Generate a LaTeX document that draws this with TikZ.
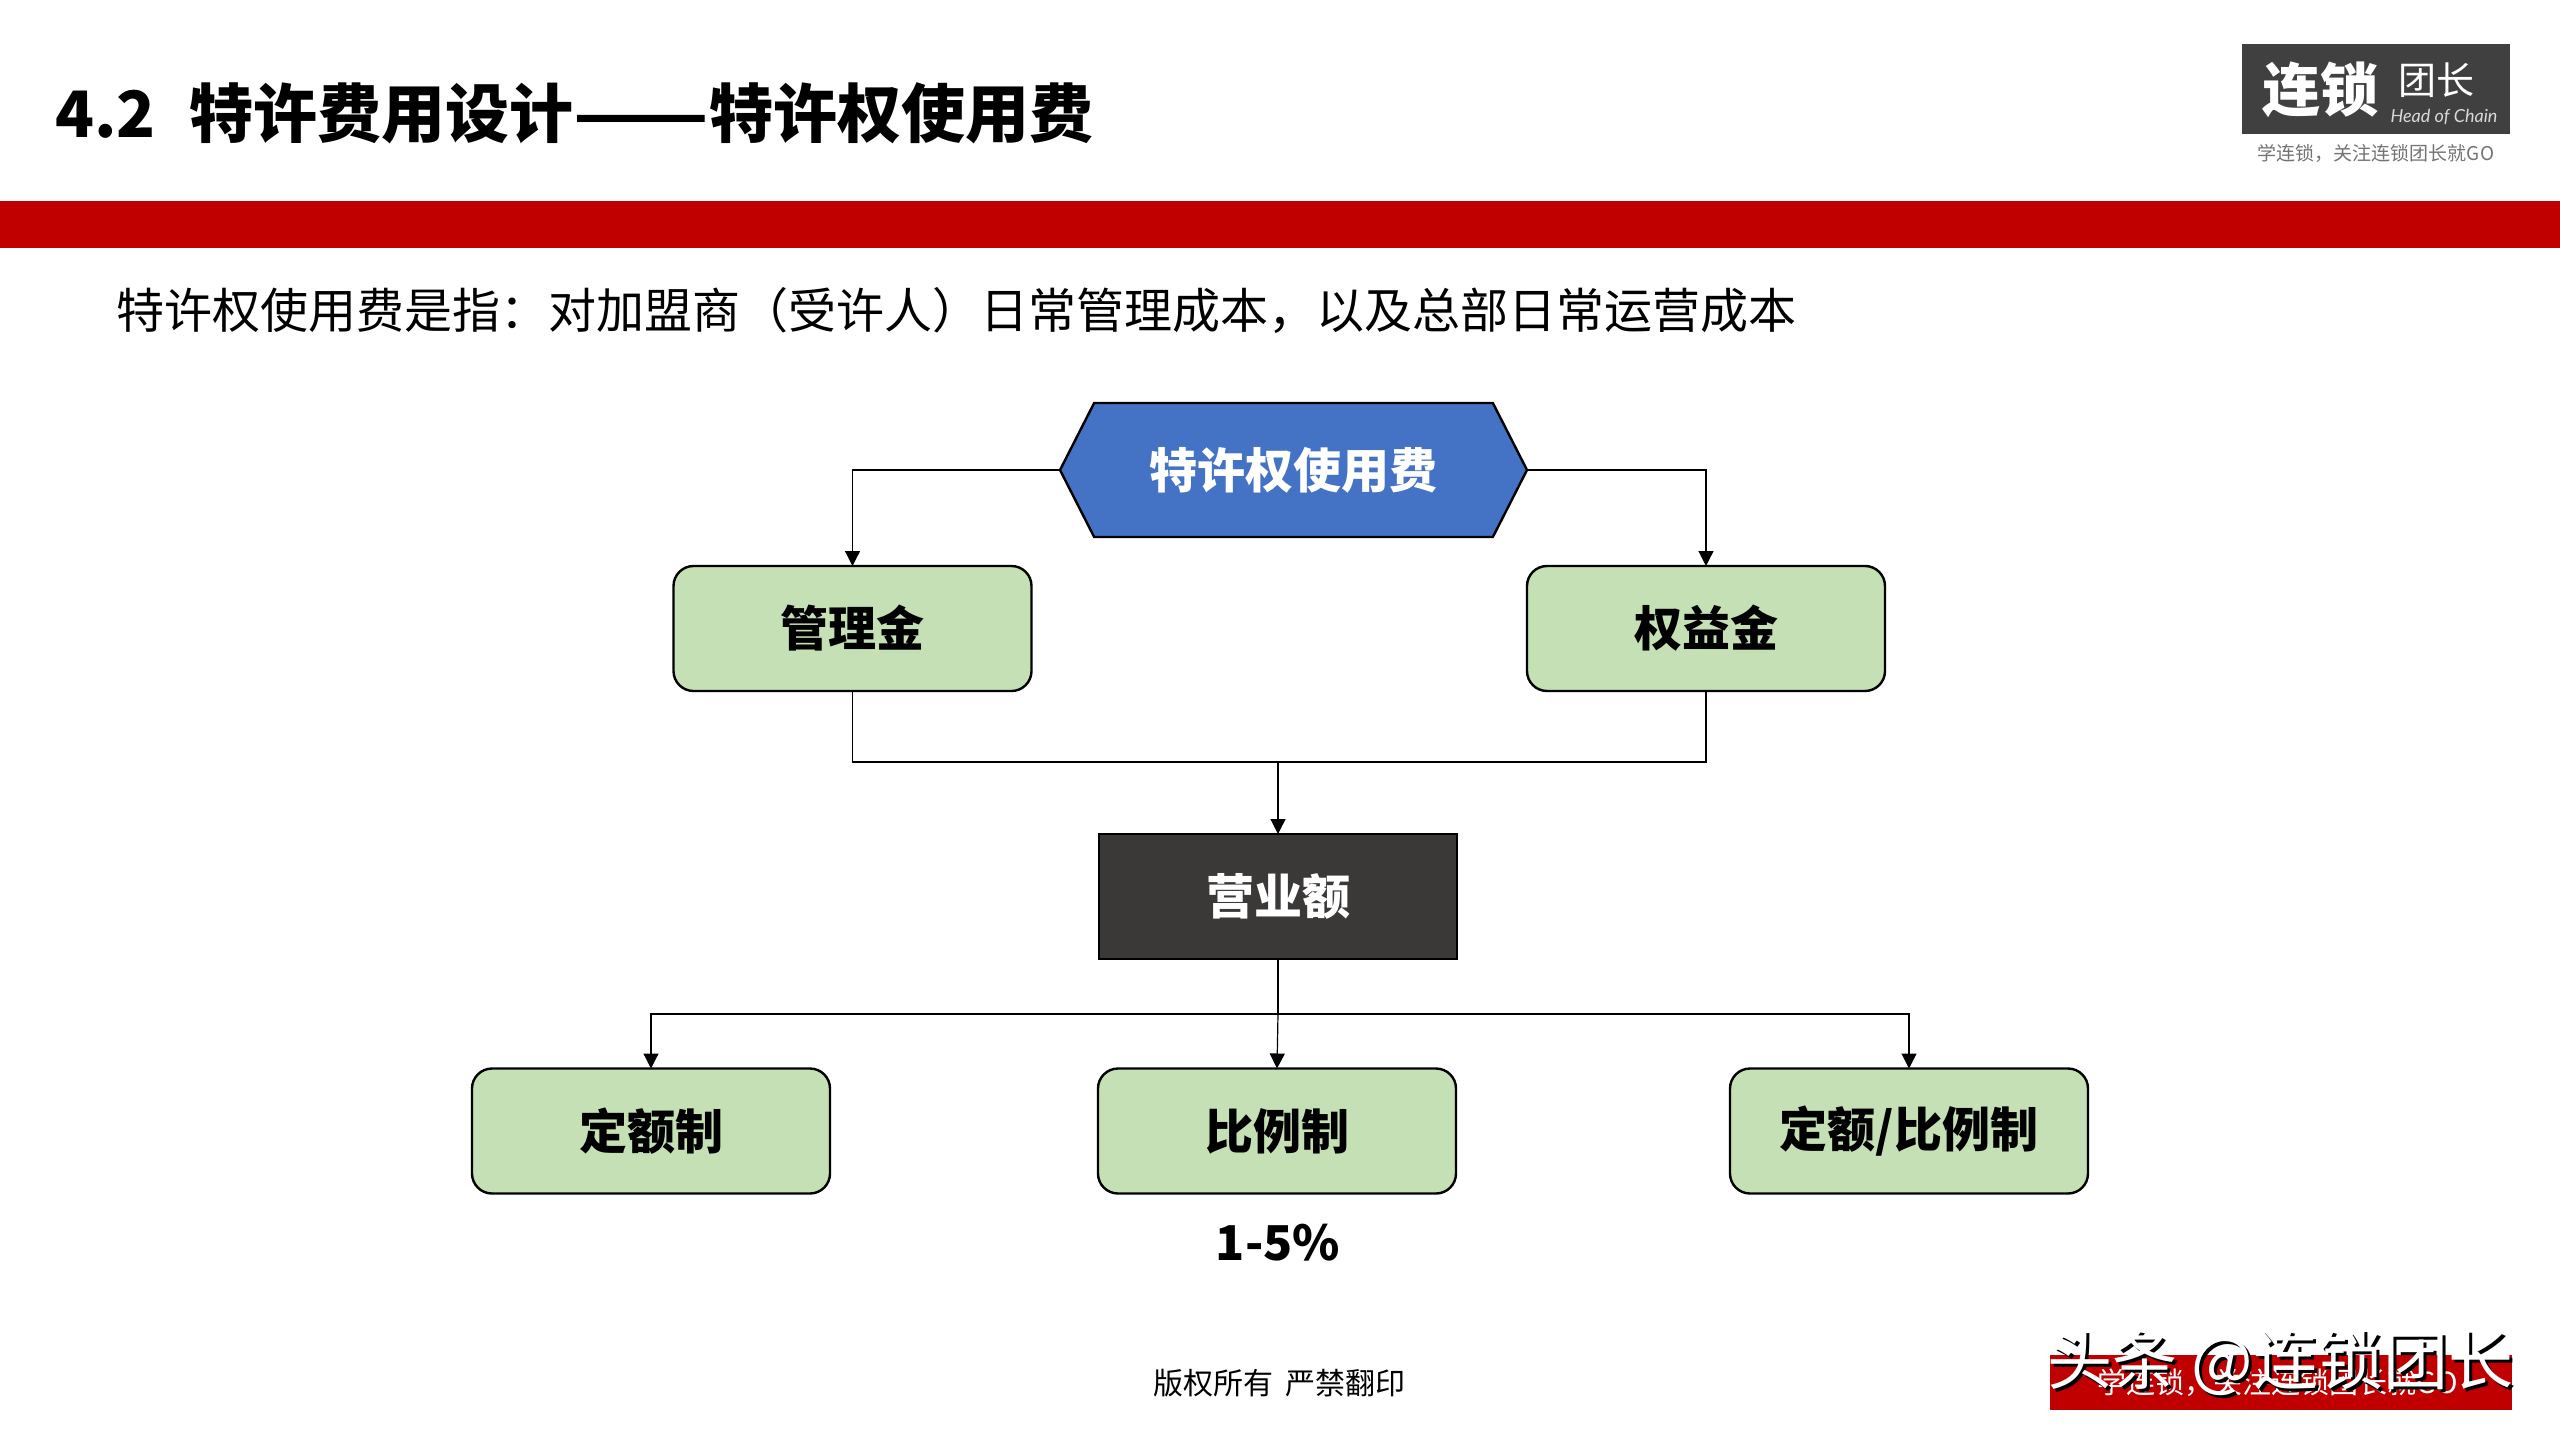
\documentclass[tikz,border=0pt]{standalone}
\usepackage{fontspec}
\usepackage{graphicx}
\setmainfont{Noto Sans CJK SC}
\newfontfamily\logolatin[ItalicFont=Lato Italic]{Lato}
\usetikzlibrary{arrows.meta,shapes.symbols}
\definecolor{barred}{HTML}{C00000}
\definecolor{hexblue}{HTML}{4472C4}
\definecolor{boxgreen}{HTML}{C5E0B4}
\definecolor{boxdark}{HTML}{3B3838}
\tikzset{
    feebox/.style={draw=black,line width=1.2pt,fill=boxgreen,rounded corners=10pt,
        minimum width=179pt,minimum height=62.5pt,inner sep=0pt,outer sep=0pt,
        font=\fontsize{24}{28}\selectfont\bfseries},
    feelink/.style={draw=black,line width=0.6pt},
    feearrow/.style={feelink,-{Triangle[length=7.5pt,width=7.5pt]}},
}
\begin{document}
\begin{tikzpicture}[x=0.5pt,y=-0.5pt]
    \useasboundingbox (0,0) rectangle (2560,1440);

    % Draw the heading
    \fill[barred] (0,201) rectangle (2560,248);
    \node[anchor=west,inner sep=0pt,font=\fontsize{32}{38}\selectfont\bfseries] (title) at (55,113) {4.2\hspace{17pt}特许费用设计\scalebox{1.235}[1]{——}特许权使用费};
    \node[anchor=west,inner sep=0pt,font=\fontsize{24}{28}\selectfont] (intro) at (116,311) {特许权使用费是指：对加盟商（受许人）日常管理成本，以及总部日常运营成本};

    % Logo
    \fill[black!75] (2242,44) rectangle (2510,134);
    \node[text=white,inner sep=0pt,font=\fontsize{29}{32}\selectfont\bfseries] (logomain) at (2320,90) {连锁};
    \node[text=white,inner sep=0pt,font=\fontsize{19}{22}\selectfont] (logoside) at (2436,80) {团长};
    \node[text=white!85!black,inner sep=0pt,font=\fontsize{9}{12}\logolatin\itshape] (logoeng) at (2444,117) {Head of Chain};
    \node[text=black!55,inner sep=0pt,font=\fontsize{9.5}{12}\selectfont] (logotag) at (2376,153) {学连锁，关注连锁团长就GO};

    % Top of the chart
    \node[shape=signal,signal to=west and east,signal pointer angle=126,draw=black,line width=1.2pt,fill=hexblue,text=white,
        minimum width=233.5pt,minimum height=67pt,inner sep=0pt,outer sep=0pt,font=\fontsize{24}{28}\selectfont\bfseries] (usefee) at (1293.5,470) {特许权使用费};
    \node[feebox] (mgmtfee) at (852.5,628.5) {管理金};
    \node[feebox] (royalty) at (1706,628.5) {权益金};
    \draw[feearrow] (usefee.west) -| (mgmtfee.north);
    \draw[feearrow] (usefee.east) -| (royalty.north);

    % Middle of the chart
    \node[draw=black,line width=1.2pt,fill=boxdark,text=white,minimum width=179pt,minimum height=62.5pt,inner sep=0pt,outer sep=0pt,
        font=\fontsize{24}{28}\selectfont\bfseries] (revenue) at (1278,896.5) {营业额};
    \coordinate (merge) at (1278,762);
    \draw[feelink] (mgmtfee.south) |- (merge);
    \draw[feelink] (royalty.south) |- (merge);
    \draw[feearrow] (merge) -- (revenue.north);

    % Bottom of the chart
    \node[feebox] (fixedfee) at (651,1131) {定额制};
    \node[feebox] (ratiofee) at (1277,1131) {比例制};
    \node[feebox] (mixedfee) at (1909,1131) {定额/比例制};
    \coordinate (branch) at (1278,1014);
    \draw[feelink] (revenue.south) -- (branch);
    \draw[feearrow] (branch) -| (fixedfee.north);
    \draw[feearrow] (branch) -- (ratiofee.north);
    \draw[feearrow] (branch) -| (mixedfee.north);
    \node[inner sep=0pt,font=\fontsize{24}{30}\selectfont\bfseries] (ratiotext) at (1278,1243) {1-5\%};

    % Footer
    \node[inner sep=0pt,font=\fontsize{15}{18}\selectfont] (copyright) at (1279,1383) {版权所有\hspace{6pt}严禁翻印};
    \fill[barred] (2050,1355) rectangle (2512,1410);
    \node[anchor=west,text=white,inner sep=0pt,font=\fontsize{14.5}{18}\selectfont] (slogan) at (2097,1383) {学连锁，关注连锁团长就GO};
    \node[anchor=west,text=black,inner sep=0pt,font=\fontsize{32.5}{36}\selectfont] (markshadow) at (2050,1366) {头条 @连锁团长};
    \node[anchor=west,text=white,inner sep=0pt,font=\fontsize{32.5}{36}\selectfont] (mark) at (2047,1363) {头条 @连锁团长};
\end{tikzpicture}
\end{document}
